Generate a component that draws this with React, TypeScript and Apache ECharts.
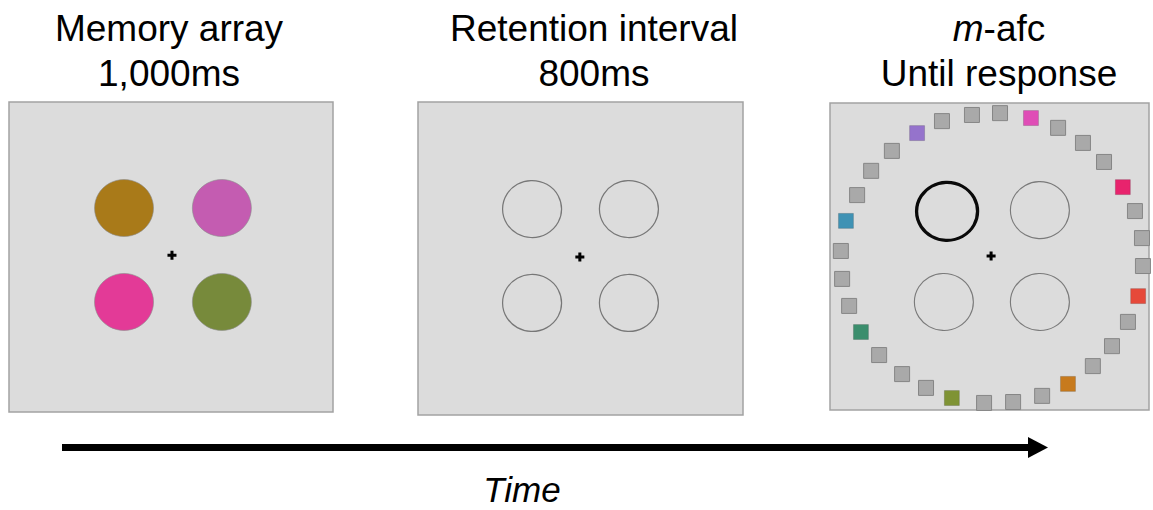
import React, { useEffect, useRef } from "react";
import * as echarts from "echarts";

// ---- data (positions in % of each panel, 0..100) ----
const panelTitleLine1 = ["Memory array", "Retention interval", "{i|m}-afc"];
const panelTitleLine2 = ["1,000ms", "800ms", "Until response"];
const timeLabel = "Time";

const memoryPoints = [
  [35.5, 34.2],
  [65.7, 34.2],
  [35.5, 64.5],
  [65.7, 64.5],
];
const memoryColors = ["#a97a19", "#c45cb1", "#e33a97", "#778a3b"];

const retentionPoints = [
  [35.1, 34.2],
  [64.9, 34.2],
  [35.1, 64.2],
  [64.9, 64.2],
];

const probePoints = [
  [36.7, 35.3],
  [65.8, 34.9],
  [35.7, 64.8],
  [65.8, 64.8],
];
const probedIndex = 0;

const fixationPoints = [
  [50.3, 49.4],
  [49.8, 49.5],
  [50.5, 49.8],
];

const choicePoints = [
  [44.5, 3.9], [53.3, 3.3], [63.0, 4.9], [71.5, 8.1], [79.3, 13.0], [85.9, 19.2],
  [91.8, 27.4], [95.6, 35.2], [97.8, 44.0], [98.1, 53.1], [96.6, 62.9], [93.4, 71.3],
  [88.4, 79.2], [82.4, 85.7], [74.6, 91.5], [66.5, 95.4], [57.4, 97.4], [48.3, 97.7],
  [38.2, 96.1], [30.1, 92.8], [22.6, 88.3], [15.4, 82.1], [9.7, 74.6], [6.0, 66.1],
  [3.8, 57.3], [3.4, 48.2], [5.0, 38.4], [8.5, 30.0], [12.9, 22.1], [19.4, 15.6],
  [27.3, 9.8], [35.1, 5.9],
];
const GRAY = "#a9a9a9";
const choiceColors = [
  GRAY, GRAY, "#df4db6", GRAY, GRAY, GRAY,
  "#e8236d", GRAY, GRAY, GRAY, "#e6493a", GRAY,
  GRAY, GRAY, "#c77a1d", GRAY, GRAY, GRAY,
  "#7f9335", GRAY, GRAY, GRAY, "#3b8e6d", GRAY,
  GRAY, GRAY, "#3f92b4", GRAY, GRAY, GRAY,
  "#9573cc", GRAY,
];

// ---- layout ----
const FONT = "'Liberation Sans', Arial, Helvetica, sans-serif";
const panels = [
  { left: 9, top: 102, width: 324, height: 310 },
  { left: 418, top: 102, width: 325, height: 313 },
  { left: 830, top: 103, width: 319, height: 307 },
];
const titleX = [169, 594, 999];
const crossPath = "path://M3,0H6V3H9V6H6V9H3V6H0V3H3Z";

export default function App() {
  const ref = useRef<HTMLDivElement>(null);

  useEffect(() => {
    document.body.style.margin = "0";
    if (!ref.current) return;
    const chart = echarts.init(ref.current, undefined, { renderer: "svg" });

    const grids = panels.map((p) => ({
      ...p,
      show: true,
      backgroundColor: "#dcdcdc",
      borderColor: "#a2a2a2",
      borderWidth: 1.5,
      containLabel: false,
    }));
    const xAxes = panels.map((_, i) => ({
      type: "value",
      gridIndex: i,
      min: 0,
      max: 100,
      show: false,
    }));
    const yAxes = panels.map((_, i) => ({
      type: "value",
      gridIndex: i,
      min: 0,
      max: 100,
      inverse: true,
      show: false,
    }));

    const base = {
      type: "scatter",
      silent: true,
      emphasis: { disabled: true },
    };

    const series: any[] = [
      {
        ...base,
        xAxisIndex: 0,
        yAxisIndex: 0,
        symbol: "circle",
        symbolSize: [59, 57],
        data: memoryPoints.map((p, i) => ({
          value: p,
          itemStyle: { color: memoryColors[i], borderColor: "#8c8c8c", borderWidth: 0.6, opacity: 1 },
        })),
      },
      {
        ...base,
        xAxisIndex: 1,
        yAxisIndex: 1,
        symbol: "circle",
        symbolSize: [59, 57],
        itemStyle: { color: "rgba(0,0,0,0)", borderColor: "#777", borderWidth: 1.2, opacity: 1 },
        data: retentionPoints,
      },
      {
        ...base,
        xAxisIndex: 2,
        yAxisIndex: 2,
        symbol: "circle",
        data: probePoints.map((p, i) =>
          i === probedIndex
            ? {
                value: p,
                symbolSize: [61, 58],
                itemStyle: { color: "rgba(0,0,0,0)", borderColor: "#0a0a0a", borderWidth: 3.2, opacity: 1 },
              }
            : {
                value: p,
                symbolSize: [59, 57],
                itemStyle: { color: "rgba(0,0,0,0)", borderColor: "#7a7a7a", borderWidth: 1.1, opacity: 1 },
              }
        ),
      },
      {
        ...base,
        xAxisIndex: 2,
        yAxisIndex: 2,
        symbol: "rect",
        symbolSize: 15,
        data: choicePoints.map((p, i) => ({
          value: p,
          itemStyle: {
            color: choiceColors[i],
            borderColor: choiceColors[i] === GRAY ? "#868686" : "rgba(0,0,0,0.15)",
            borderWidth: 1,
            opacity: 1,
          },
        })),
      },
      ...fixationPoints.map((p, i) => ({
        ...base,
        xAxisIndex: i,
        yAxisIndex: i,
        symbol: crossPath,
        symbolSize: 9,
        itemStyle: { color: "#000", opacity: 1 },
        data: [p],
      })),
    ];

    const titleStyle = (text: string) => ({
      text,
      fontSize: 37,
      fontFamily: FONT,
      fill: "#000",
      textAlign: "center",
      textVerticalAlign: "middle",
      align: "center",
      verticalAlign: "middle",
      rich: {
        i: { fontSize: 37, fontFamily: FONT, fontStyle: "italic", fill: "#000" },
      },
    });

    const graphic: any[] = [];
    panelTitleLine1.forEach((t, i) => {
      graphic.push({ type: "text", x: titleX[i], y: 28, style: titleStyle(t) });
    });
    panelTitleLine2.forEach((t, i) => {
      graphic.push({ type: "text", x: titleX[i], y: 73, style: titleStyle(t) });
    });
    graphic.push({
      type: "line",
      shape: { x1: 62, y1: 447.5, x2: 1032, y2: 447.5 },
      style: { stroke: "#000", lineWidth: 7 },
    });
    graphic.push({
      type: "polygon",
      shape: { points: [[1028, 437], [1048, 447.5], [1028, 458]] },
      style: { fill: "#000" },
    });
    graphic.push({
      type: "text",
      x: 522,
      y: 489,
      style: {
        text: timeLabel,
        fontSize: 35,
        fontFamily: FONT,
        fontStyle: "italic",
        fill: "#000",
        textAlign: "center",
        textVerticalAlign: "middle",
        align: "center",
        verticalAlign: "middle",
      },
    });

    chart.setOption({
      animation: false,
      backgroundColor: "#ffffff",
      grid: grids,
      xAxis: xAxes,
      yAxis: yAxes,
      series,
      graphic,
    });

    return () => chart.dispose();
  }, []);

  return <div ref={ref} style={{ width: 1153, height: 510 }} />;
}
